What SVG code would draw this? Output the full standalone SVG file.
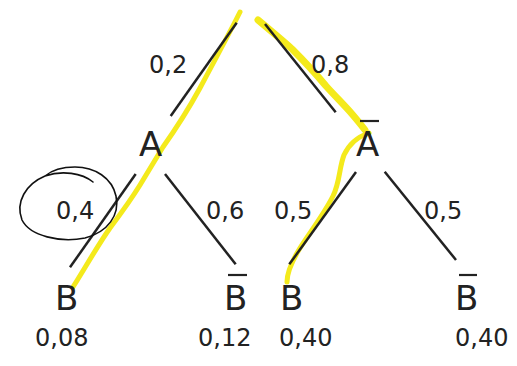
<svg xmlns="http://www.w3.org/2000/svg" width="517" height="366" viewBox="0 0 517 366">
<style>
.edge{stroke:#222;stroke-width:2.5;stroke-linecap:butt;fill:none}
.bar{stroke:#222;stroke-width:2.2}
.node{font-family:"DejaVu Sans",sans-serif;font-size:34px;fill:#222}
.lbl{font-family:"DejaVu Sans",sans-serif;font-size:24px;fill:#222}
.hl{stroke:#f4ea1c;fill:none;stroke-linecap:round;stroke-linejoin:round}
.ink{stroke:#111;fill:none;stroke-width:1.6;stroke-linecap:round}
</style>
<rect width="517" height="366" fill="#fff"/>
<g id="highlights">
<path class="hl" stroke-width="5" d="M240,12 C232,28 215,60 200,88 C188,110 175,130 163,147 C155,160 148,172 140,185 C132,198 122,212 110,228 C98,245 85,268 73,287"/>
<path class="hl" stroke-width="7" d="M258,20 C270,30 282,40 292,49 C305,62 316,74 326,86 C336,97 345,106 352,114 C358,121 362,126 365,130"/>
<path class="hl" stroke-width="5" d="M369,133 C360,136 350,142 344,155 C339,168 340,182 333,196 C324,214 310,232 300,248 C292,261 287,272 287,282"/>
</g>
<g id="connectors">
<line class="edge" x1="236.7" y1="22.7" x2="170.7" y2="116"/>
<line class="edge" x1="265" y1="24" x2="335.7" y2="112.3"/>
<line class="edge" x1="135.7" y1="174" x2="70" y2="267.3"/>
<line class="edge" x1="165" y1="174" x2="235.7" y2="264.3"/>
<line class="edge" x1="356" y1="172" x2="289.3" y2="264.3"/>
<line class="edge" x1="384.7" y1="171.7" x2="456" y2="260"/>
<text class="lbl" x="149" y="73">0,2</text>
<text class="lbl" x="311" y="73">0,8</text>
<text class="lbl" x="56" y="219">0,4</text>
<text class="lbl" x="206" y="219">0,6</text>
<text class="lbl" x="274" y="219">0,5</text>
<text class="lbl" x="424" y="219">0,5</text>
</g>
<g id="nodeA"><text class="node" x="139" y="156">A</text></g>
<g id="nodeAbar"><text class="node" x="356" y="156">A</text><line class="bar" x1="360" y1="121" x2="379" y2="121"/></g>
<g id="nodeB1"><text class="node" x="55" y="310">B</text><text class="lbl" x="35" y="346">0,08</text></g>
<g id="nodeBbar1"><text class="node" x="224" y="310">B</text><line class="bar" x1="228" y1="275" x2="247" y2="275"/><text class="lbl" x="198" y="346">0,12</text></g>
<g id="nodeB2"><text class="node" x="280" y="310">B</text><text class="lbl" x="279" y="346">0,40</text></g>
<g id="nodeBbar2"><text class="node" x="455" y="310">B</text><line class="bar" x1="459" y1="275" x2="477" y2="275"/><text class="lbl" x="455" y="346">0,40</text></g>
<g id="circle">
<path class="ink" d="M93,182 C82,173 62,170 45,176 C26,184 15,202 22,220 C30,236 60,243 85,238 C108,232 120,215 116,196 C112,178 95,167 75,167 C62,167 52,170 45,176"/>
</g>
</svg>
